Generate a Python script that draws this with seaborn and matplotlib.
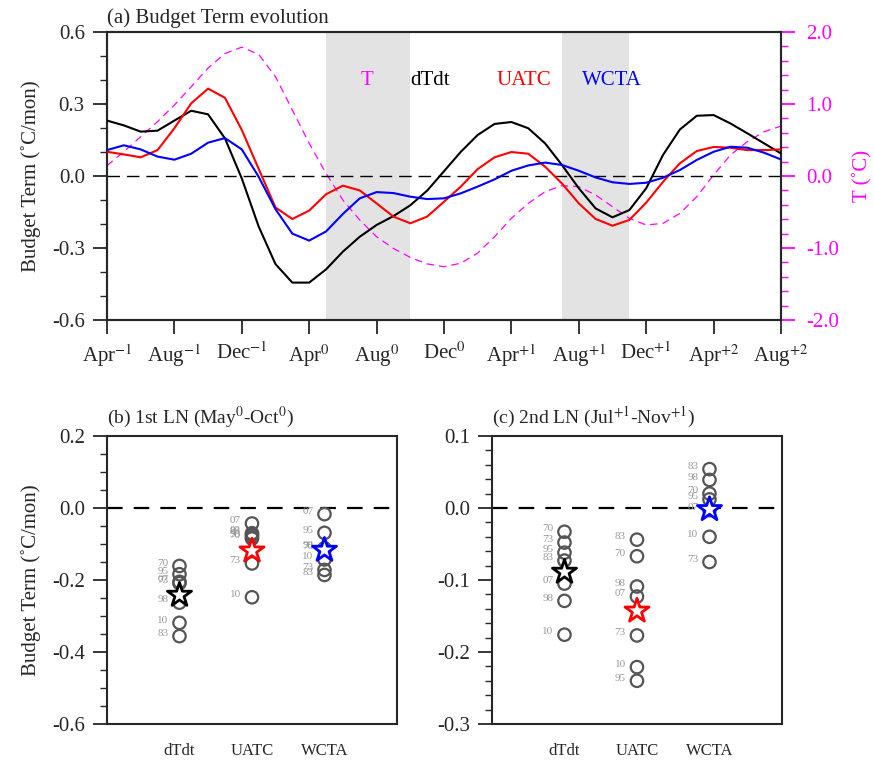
import numpy as np
import pandas as pd
import matplotlib
matplotlib.use("Agg")
import matplotlib.pyplot as plt
from matplotlib.ticker import MultipleLocator
import seaborn as sns

# ---- data ----
months = list(range(41))  # Apr^-1 .. Aug^+2
month_ticks = [0, 4, 8, 12, 16, 20, 24, 28, 32, 36, 40]
month_labels = ["Apr$^{-1}$", "Aug$^{-1}$", "Dec$^{-1}$", "Apr$^{0}$", "Aug$^{0}$", "Dec$^{0}$",
                "Apr$^{+1}$", "Aug$^{+1}$", "Dec$^{+1}$", "Apr$^{+2}$", "Aug$^{+2}$"]

dTdt = [0.231, 0.211, 0.185, 0.189, 0.231, 0.272, 0.257, 0.157, -0.01, -0.21,
        -0.367, -0.444, -0.444, -0.389, -0.315, -0.253, -0.204, -0.167, -0.122, -0.061,
        0.02, 0.101, 0.171, 0.217, 0.225, 0.199, 0.136, 0.046, -0.051, -0.135,
        -0.172, -0.142, -0.051, 0.088, 0.194, 0.251, 0.254, 0.219, 0.178, 0.136, 0.094]
uatc = [0.101, 0.090, 0.078, 0.108, 0.199, 0.303, 0.364, 0.326, 0.192, 0.03,
        -0.131, -0.179, -0.144, -0.076, -0.040, -0.060, -0.114, -0.169, -0.197, -0.169,
        -0.107, -0.044, 0.029, 0.078, 0.100, 0.093, 0.039, -0.031, -0.114, -0.179,
        -0.207, -0.183, -0.111, -0.024, 0.053, 0.104, 0.121, 0.118, 0.108, 0.108, 0.111]
wcta = [0.108, 0.128, 0.111, 0.081, 0.068, 0.093, 0.139, 0.158, 0.111, -0.003,
        -0.138, -0.240, -0.269, -0.231, -0.158, -0.093, -0.067, -0.071, -0.086, -0.096,
        -0.093, -0.072, -0.044, -0.014, 0.022, 0.044, 0.056, 0.046, 0.022, -0.006,
        -0.026, -0.033, -0.028, -0.007, 0.025, 0.067, 0.101, 0.122, 0.118, 0.097, 0.069]
temp = [0.144, 0.338, 0.546, 0.755, 0.986, 1.24, 1.50, 1.70, 1.79, 1.69,
        1.38, 0.917, 0.454, 0.037, -0.333, -0.611, -0.843, -1.005, -1.13, -1.22,
        -1.26, -1.21, -1.07, -0.843, -0.588, -0.380, -0.218, -0.134, -0.148, -0.264,
        -0.426, -0.588, -0.68, -0.657, -0.519, -0.287, 0.014, 0.292, 0.477, 0.616, 0.694]

shade_1 = (13, 18)   # May^0 - Oct^0
shade_2 = (27, 31)   # Jul^+1 - Nov^+1

terms = ["dTdt", "UATC", "WCTA"]
term_colors = ["black", "red", "blue"]

# panel (b): first La Nina composite members
b_years = {
    "dTdt": ["70", "95", "07", "73", "98", "10", "83"],
    "UATC": ["07", "83", "98", "70", "95", "73", "10"],
    "WCTA": ["07", "95", "98", "70", "10", "73", "83"],
}
b_values = {
    "dTdt": [-0.161, -0.184, -0.205, -0.209, -0.263, -0.319, -0.356],
    "UATC": [-0.043, -0.070, -0.074, -0.085, -0.080, -0.154, -0.248],
    "WCTA": [-0.017, -0.069, -0.112, -0.116, -0.143, -0.172, -0.186],
}
b_mean = [-0.242, -0.119, -0.117]

# panel (c): second La Nina composite members
c_years = {
    "dTdt": ["70", "73", "95", "83", "07", "98", "10"],
    "UATC": ["83", "70", "98", "07", "73", "10", "95"],
    "WCTA": ["83", "98", "70", "95", "07", "10", "73"],
}
c_values = {
    "dTdt": [-0.033, -0.048, -0.062, -0.073, -0.105, -0.129, -0.176],
    "UATC": [-0.044, -0.067, -0.109, -0.123, -0.177, -0.221, -0.240],
    "WCTA": [0.054, 0.039, 0.020, 0.012, -0.003, -0.040, -0.075],
}
c_mean = [-0.089, -0.143, -0.002]

# ---- style ----
sns.set_style("ticks")
plt.rcParams["font.family"] = ["Liberation Serif", "DejaVu Serif"]
plt.rcParams["mathtext.fontset"] = "stix"
plt.rcParams["axes.linewidth"] = 1.5

fig = plt.figure(figsize=(8.74, 7.62), dpi=100)
ax = fig.add_axes([0.1224, 0.580, 0.7712, 0.378])
ax2 = ax.twinx()

# shading and T curve live on the twin (drawn underneath)
for x0, x1 in (shade_1, shade_2):
    ax2.axvspan(x0, x1, color="#e3e3e3", lw=0, zorder=0)
sns.lineplot(x=months, y=temp, ax=ax2, color="magenta", lw=0.9, zorder=2)
ax2.lines[-1].set_linestyle((0, (6, 4)))

ax.axhline(0, color="black", lw=1.0, ls=(0, (9, 5)), zorder=1)
for vals, col in zip([dTdt, uatc, wcta], term_colors):
    sns.lineplot(x=months, y=vals, ax=ax, color=col, lw=1.5, zorder=3)
ax.set_zorder(ax2.get_zorder() + 1)
ax.patch.set_visible(False)

ax.set_xlim(0, 40)
ax.set_ylim(-0.6, 0.6)
ax.yaxis.set_minor_locator(MultipleLocator(0.1))
ax.set_yticks([-0.6, -0.3, 0.0, 0.3, 0.6])
ax.set_yticklabels(["-0.6", "-0.3", "0.0", "0.3", "0.6"])
ax.set_xticks(month_ticks)
ax.set_xticklabels(month_labels)
ax.tick_params(axis="both", which="major", length=10, width=1.3, labelsize=15, pad=6)
ax.tick_params(axis="y", which="minor", length=5, width=1.0)
ax.set_ylabel("Budget Term (˚C/mon)", fontsize=15, labelpad=8)

ax2.set_xlim(0, 40)
ax2.set_ylim(-2.0, 2.0)
ax2.set_yticks([-2.0, -1.0, 0.0, 1.0, 2.0])
ax2.set_yticklabels(["-2.0", "-1.0", "0.0", "1.0", "2.0"])
ax2.yaxis.set_minor_locator(MultipleLocator(0.2))
ax2.tick_params(axis="y", which="major", length=10, width=1.3, colors="magenta",
                labelsize=15, pad=8)
ax2.tick_params(axis="y", which="minor", length=5, width=1.0, colors="magenta")
ax2.set_ylabel("T (˚C)", color="magenta", fontsize=15, labelpad=10)

ax.text(0.0, 1.015, "(a) Budget Term evolution", transform=ax.transAxes,
        fontsize=15, ha="left", va="bottom")
for lab, xpos, col in [("T", 0.386, "magenta"), ("dTdt", 0.479, "black"),
                       ("UATC", 0.619, "red"), ("WCTA", 0.749, "blue")]:
    ax.text(xpos, 0.833, lab, transform=ax.transAxes, color=col, fontsize=15,
            ha="center", va="center")


def scatter_panel(axp, years, values, means, ylim, major, minor, title, ylabel):
    axp.axhline(0, color="black", lw=1.6, ls=(0, (7, 5)), zorder=1)
    rows = []
    for i, t in enumerate(terms):
        for yr, v in zip(years[t], values[t]):
            rows.append({"term": t, "pos": i + 1, "year": yr, "value": v})
    df = pd.DataFrame(rows)
    sns.scatterplot(data=df, x="pos", y="value", ax=axp, s=80, marker="o",
                    facecolor="none", edgecolor="#555555", linewidth=1.6, zorder=3)
    for _, r in df.iterrows():
        axp.annotate(r["year"], (r["pos"], r["value"]), xytext=(-12, 2),
                     textcoords="offset points", fontsize=8, color="#999999",
                     ha="center", va="center")
    mean_df = pd.DataFrame({"pos": [1, 2, 3], "value": means, "term": terms})
    sns.scatterplot(data=mean_df, x="pos", y="value", ax=axp, marker="*",
                    s=330, linewidth=2.0, legend=False, zorder=4)
    # star edges take the term colors
    coll = axp.collections[-1]
    coll.set_edgecolors(term_colors)
    coll.set_facecolors("white")

    axp.set_xlim(0, 4)
    axp.set_ylim(*ylim)
    axp.yaxis.set_minor_locator(MultipleLocator(minor))
    axp.set_xticks([1, 2, 3])
    axp.set_xticklabels(terms, fontsize=12)
    axp.tick_params(axis="x", length=0, pad=14)
    axp.tick_params(axis="y", which="major", length=10, width=1.3, labelsize=15, pad=6)
    axp.tick_params(axis="y", which="minor", length=5, width=1.0)
    axp.set_xlabel("")
    axp.set_ylabel(ylabel, fontsize=15, labelpad=8)
    axp.text(0.0, 1.02, title, transform=axp.transAxes, fontsize=14,
             ha="left", va="bottom")


axb = fig.add_axes([0.1224, 0.0499, 0.3318, 0.3779])
scatter_panel(axb, b_years, b_values, b_mean, (-0.6, 0.2), 0.2, 0.05,
              "(b) 1st LN (May$^{0}$-Oct$^{0}$)", "Budget Term (˚C/mon)")
axb.set_yticks([-0.6, -0.4, -0.2, 0.0, 0.2])
axb.set_yticklabels(["-0.6", "-0.4", "-0.2", "0.0", "0.2"])

axc = fig.add_axes([0.5629, 0.0499, 0.3318, 0.3779])
scatter_panel(axc, c_years, c_values, c_mean, (-0.3, 0.1), 0.1, 0.02,
              "(c) 2nd LN (Jul$^{+1}$-Nov$^{+1}$)", "")
axc.set_yticks([-0.3, -0.2, -0.1, 0.0, 0.1])
axc.set_yticklabels(["-0.3", "-0.2", "-0.1", "0.0", "0.1"])

fig.savefig("out.png", dpi=100)
